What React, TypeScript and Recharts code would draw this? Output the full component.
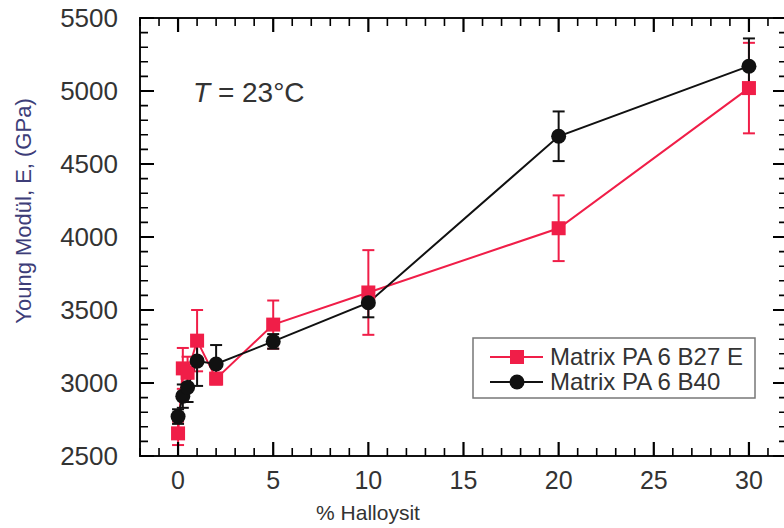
import React from "react";
import { ComposedChart, Line, XAxis, YAxis, ErrorBar } from "recharts";

// % halloysite loading
const X_VALUES = [0, 0.25, 0.5, 1, 2, 5, 10, 20, 30];

// Matrix PA 6 B27 E (red squares)
const RED_E = [2655, 3100, 3070, 3290, 3030, 3400, 3620, 4060, 5020];
const RED_ERR = [80, 140, 110, 210, 40, 165, 290, 225, 310];

// Matrix PA 6 B40 (black circles)
const BLACK_E = [2770, 2910, 2970, 3150, 3130, 3285, 3550, 4690, 5170];
const BLACK_ERR = [50, 80, 100, 170, 130, 50, 100, 170, 190];

const X_LABELS = [0, 5, 10, 15, 20, 25, 30];
const Y_LABELS = [2500, 3000, 3500, 4000, 4500, 5000, 5500];
const X_TICKS = [-2, -1, 0, 1, 2, 3, 4, 5, 6, 7, 8, 9, 10, 11, 12, 13, 14, 15, 16, 17, 18, 19, 20, 21, 22, 23, 24, 25, 26, 27, 28, 29, 30, 31, 32];
const Y_TICKS = [2500, 2600, 2700, 2800, 2900, 3000, 3100, 3200, 3300, 3400, 3500, 3600, 3700, 3800, 3900, 4000, 4100, 4200, 4300, 4400, 4500, 4600, 4700, 4800, 4900, 5000, 5100, 5200, 5300, 5400, 5500];

const X_DOMAIN: [number, number] = [-2, 32];
const Y_DOMAIN: [number, number] = [2500, 5500];

const data = X_VALUES.map((x, i) => ({
  x,
  red: RED_E[i],
  redErr: RED_ERR[i],
  black: BLACK_E[i],
  blackErr: BLACK_ERR[i],
}));

const W = 800;
const H = 528;
const MARGIN = { top: 18, right: 13, bottom: 0, left: 0 };
const Y_AXIS_W = 140;
const X_AXIS_H = 72;
const PLOT_LEFT = MARGIN.left + Y_AXIS_W;
const PLOT_RIGHT = W - MARGIN.right;
const PLOT_TOP = MARGIN.top;
const PLOT_BOTTOM = H - X_AXIS_H;

const RED = "#f01e48";
const BLACK = "#111111";
const FONT = "'Liberation Sans', Arial, sans-serif";
const TEXT = "#333333";

const XTick = (props: any) => {
  const { x, payload } = props;
  const v = payload.value;
  const major = X_LABELS.indexOf(v) >= 0;
  const len = major ? 14 : 8;
  const d = `M${x},${PLOT_BOTTOM}V${PLOT_BOTTOM - len}M${x},${PLOT_TOP}V${PLOT_TOP + len}`;
  return (
    <g>
      <path d={d} stroke="#000000" strokeWidth={major ? 2.2 : 1.6} fill="none" />
      {major ? (
        <text x={x} y={PLOT_BOTTOM + 24} dy="0.35em" textAnchor="middle" fontSize={25} fill={TEXT} fontFamily={FONT}>
          {v}
        </text>
      ) : null}
    </g>
  );
};

const YTick = (props: any) => {
  const { y, payload } = props;
  const v = payload.value;
  const major = Y_LABELS.indexOf(v) >= 0;
  const len = major ? 14 : 8;
  const d = `M${PLOT_LEFT},${y}H${PLOT_LEFT + len}M${PLOT_RIGHT},${y}H${PLOT_RIGHT - len}`;
  return (
    <g>
      <path d={d} stroke="#000000" strokeWidth={major ? 2.2 : 1.6} fill="none" />
      {major ? (
        <text x={PLOT_LEFT - 22} y={y} dy="0.35em" textAnchor="end" fontSize={26} fill={TEXT} fontFamily={FONT}>
          {v}
        </text>
      ) : null}
    </g>
  );
};

const Square = (props: any) => {
  const { cx, cy } = props;
  if (cx == null || cy == null) return null;
  return <rect x={cx - 7} y={cy - 7} width={14} height={14} fill={RED} />;
};

const Circle = (props: any) => {
  const { cx, cy } = props;
  if (cx == null || cy == null) return null;
  return <circle cx={cx} cy={cy} r={7.5} fill={BLACK} />;
};

export default function App() {
  return (
    <div
      style={{
        position: "absolute",
        left: 0,
        top: 0,
        width: 784,
        height: 528,
        overflow: "hidden",
        background: "#fff",
      }}
    >
      <ComposedChart width={W} height={H} margin={MARGIN} data={data}>
        <XAxis
          dataKey="x"
          type="number"
          domain={X_DOMAIN}
          ticks={X_TICKS}
          interval={0}
          height={X_AXIS_H}
          axisLine={false}
          tickLine={false}
          tick={<XTick />}
        />
        <YAxis
          type="number"
          domain={Y_DOMAIN}
          ticks={Y_TICKS}
          interval={0}
          width={Y_AXIS_W}
          axisLine={false}
          tickLine={false}
          tick={<YTick />}
        />
        <Line
          dataKey="red"
          type="linear"
          stroke={RED}
          strokeWidth={2}
          dot={<Square />}
          activeDot={false}
          isAnimationActive={false}
        >
          <ErrorBar dataKey="redErr" direction="y" width={6} stroke={RED} strokeWidth={2} />
        </Line>
        <Line
          dataKey="black"
          type="linear"
          stroke={BLACK}
          strokeWidth={2}
          dot={<Circle />}
          activeDot={false}
          isAnimationActive={false}
        >
          <ErrorBar dataKey="blackErr" direction="y" width={6} stroke={BLACK} strokeWidth={2} />
        </Line>
        <g fontFamily={FONT}>
          <rect
            x={PLOT_LEFT}
            y={PLOT_TOP}
            width={PLOT_RIGHT - PLOT_LEFT}
            height={PLOT_BOTTOM - PLOT_TOP}
            fill="none"
            stroke={BLACK}
            strokeWidth={2}
          />
          <text x={193} y={102} fontSize={28} fill={TEXT}>
            <tspan fontStyle="italic">T</tspan> = 23°C
          </text>
          <text
            x={23}
            y={211}
            transform="rotate(-90 23 211)"
            textAnchor="middle"
            dy="0.35em"
            fontSize={22}
            fill="#3d3d78"
          >
            Young Modül, E, (GPa)
          </text>
          <text x={368} y={513} textAnchor="middle" dy="0.35em" fontSize={21} fill={TEXT}>
            % Halloysit
          </text>
          {/* legend */}
          <rect x={473} y={338} width={282} height={60} fill="#fff" stroke="#777" strokeWidth={1.5} />
          <line x1={490} x2={543} y1={357} y2={357} stroke={RED} strokeWidth={2} />
          <rect x={510} y={350} width={14} height={14} fill={RED} />
          <text x={550} y={357} dy="0.35em" fontSize={24} fill={TEXT}>
            Matrix PA 6 B27 E
          </text>
          <line x1={490} x2={543} y1={382} y2={382} stroke={BLACK} strokeWidth={2} />
          <circle cx={517} cy={382} r={7.5} fill={BLACK} />
          <text x={550} y={382} dy="0.35em" fontSize={24} fill={TEXT}>
            Matrix PA 6 B40
          </text>
        </g>
      </ComposedChart>
    </div>
  );
}
